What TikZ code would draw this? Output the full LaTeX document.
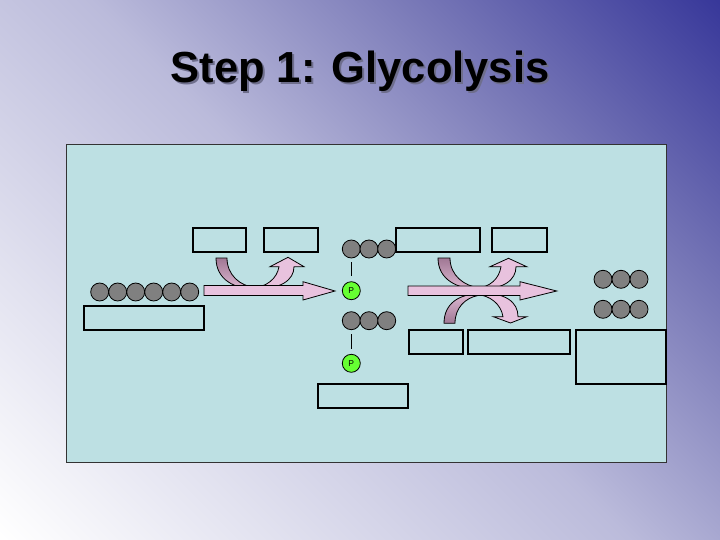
\documentclass[tikz,border=0pt]{standalone}
\usepackage{fontspec}
\setmainfont{Liberation Sans}
\definecolor{bgmid}{HTML}{BBBBDB}
\definecolor{bgq}{HTML}{7A7AB8}
\definecolor{bgdark}{HTML}{38389A}
\definecolor{panel}{HTML}{BDE0E3}
\definecolor{cgrey}{HTML}{808080}
\definecolor{pgreen}{HTML}{66FF33}
\definecolor{apink}{HTML}{E8C2DE}
\definecolor{mauvedark}{HTML}{A07894}
\definecolor{mauvelight}{HTML}{DDB8D2}
\definecolor{shadowc}{HTML}{6E6E8C}
\pgfdeclarehorizontalshading{bgshade}{100bp}{color(0bp)=(white); color(14.64bp)=(white); color(50bp)=(bgmid); color(67.68bp)=(bgq); color(85.36bp)=(bgdark); color(100bp)=(bgdark)}
\tikzset{
  box/.style={draw=black, line width=1.2pt, inner sep=0pt, outer sep=0pt, anchor=north west},
  carbon/.style={circle, draw=black, line width=0.8pt, fill=cgrey, minimum size=18pt, inner sep=0pt},
  phos/.style={circle, draw=black, line width=0.8pt, fill=pgreen, minimum size=18pt, inner sep=0pt, font=\fontsize{8.5}{9}\selectfont},
  pinkarrow/.style={fill=apink, draw=black, line width=0.8pt, line join=miter},
  curvedown/.style={draw=black, line width=0.8pt, top color=mauvedark, bottom color=mauvelight},
  curveup/.style={draw=black, line width=0.8pt, top color=mauvelight, bottom color=mauvedark},
  titlefont/.style={font=\fontsize{43.5}{50}\selectfont\bfseries, anchor=base, inner sep=0pt},
  bond/.style={draw=black, line width=0.9pt, shorten <=4pt, shorten >=5pt}
}
\begin{document}
\begin{tikzpicture}[x=1pt,y=-1pt]
\useasboundingbox (0,0) rectangle (720,540);
% background
\shade[shading=bgshade, shading angle=45] (0,0) rectangle (720,540);
% title with soft shadow
\node[titlefont, text=shadowc] (tshadow) at (362,85) {Step 1: Glycolysis};
\node[titlefont, text=black] (title) at (360,83) {Step 1: Glycolysis};
% panel
\node[draw=black!80, line width=1pt, fill=panel, minimum width=600pt, minimum height=318pt, inner sep=0pt, anchor=north west] (panel) at (66,144) {};
% boxes
\node[box, minimum width=53pt, minimum height=24pt] (b1) at (193,228) {};
\node[box, minimum width=54pt, minimum height=24pt] (b2) at (264,228) {};
\node[box, minimum width=84pt, minimum height=24pt] (b3) at (396,228) {};
\node[box, minimum width=55pt, minimum height=24pt] (b4) at (492,228) {};
\node[box, minimum width=54pt, minimum height=24pt] (b5) at (409,330) {};
\node[box, minimum width=102pt, minimum height=24pt] (b6) at (468,330) {};
\node[box, minimum width=120pt, minimum height=24pt] (b7) at (84,306) {};
\node[box, minimum width=90pt, minimum height=54pt] (b8) at (576,330) {};
\node[box, minimum width=90pt, minimum height=24pt] (b9) at (318,384) {};
% left curved arrows
\shadedraw[curvedown] (216,258) .. controls (216,280) and (235,289) .. (255,289)
  -- (255,287.5) .. controls (240,286) and (227,275) .. (227,258) -- cycle;
\path[pinkarrow] (253,289.5) .. controls (281,289.5) and (294,280) .. (294,266.7)
  -- (304,266.7) -- (288,257.3) -- (270,266.7) -- (279,266.7)
  .. controls (277,279) and (266,287) .. (253,288) -- cycle;
% left straight arrow
\path[pinkarrow] (204,285.5) -- (303,285.5) -- (303,281.7) -- (335,291) -- (303,300) -- (303,295.5) -- (204,295.5) -- cycle;
% right curved arrows
\shadedraw[curvedown] (438,258) .. controls (438,280) and (458,289) .. (478,289)
  -- (478,287.5) .. controls (465,286) and (450,276) .. (450,258) -- cycle;
\shadedraw[curveup] (444,323.3) .. controls (444,303) and (460,294) .. (478,294)
  -- (478,295.5) .. controls (465,298) and (455,308) .. (455,323.3) -- cycle;
\path[pinkarrow] (477,289.5) .. controls (504,289.5) and (516,280) .. (516,266.7)
  -- (526.7,266.7) -- (508.5,258.3) -- (490,266.7) -- (501,266.7)
  .. controls (499,279) and (490,287) .. (477,288) -- cycle;
\path[pinkarrow] (477,292.5) .. controls (506,292.5) and (518,302) .. (518,316.7)
  -- (526.7,316.7) -- (510.5,323) -- (493.3,316.7) -- (503,316.7)
  .. controls (501,304) and (490,295.5) .. (477,294.5) -- cycle;
% right straight arrow
\path[pinkarrow] (408,286) -- (520,286) -- (520,281.7) -- (556.7,291) -- (520,300) -- (520,295.5) -- (408,295.5) -- cycle;
% six-carbon chain
\foreach \i in {0,...,5} {\node[carbon] (g\i) at (99.7+18*\i,292) {};}
% three-carbon chains with phosphates
\foreach \i in {0,1,2} {\node[carbon] (t\i) at (351.3+17.7*\i,249) {};}
\foreach \i in {0,1,2} {\node[carbon] (m\i) at (351.3+17.7*\i,320.7) {};}
\node[phos] (p1) at (351.3,290.7) {P};
\node[phos] (p2) at (351.3,363.3) {P};
\draw[bond] (t0.south) -- (p1.north);
\draw[bond] (m0.south) -- (p2.north);
% right product chains
\foreach \i in {0,1,2} {\node[carbon] (r\i) at (603+18*\i,279.3) {};}
\foreach \i in {0,1,2} {\node[carbon] (s\i) at (603+18*\i,309.3) {};}
\end{tikzpicture}
\end{document}
